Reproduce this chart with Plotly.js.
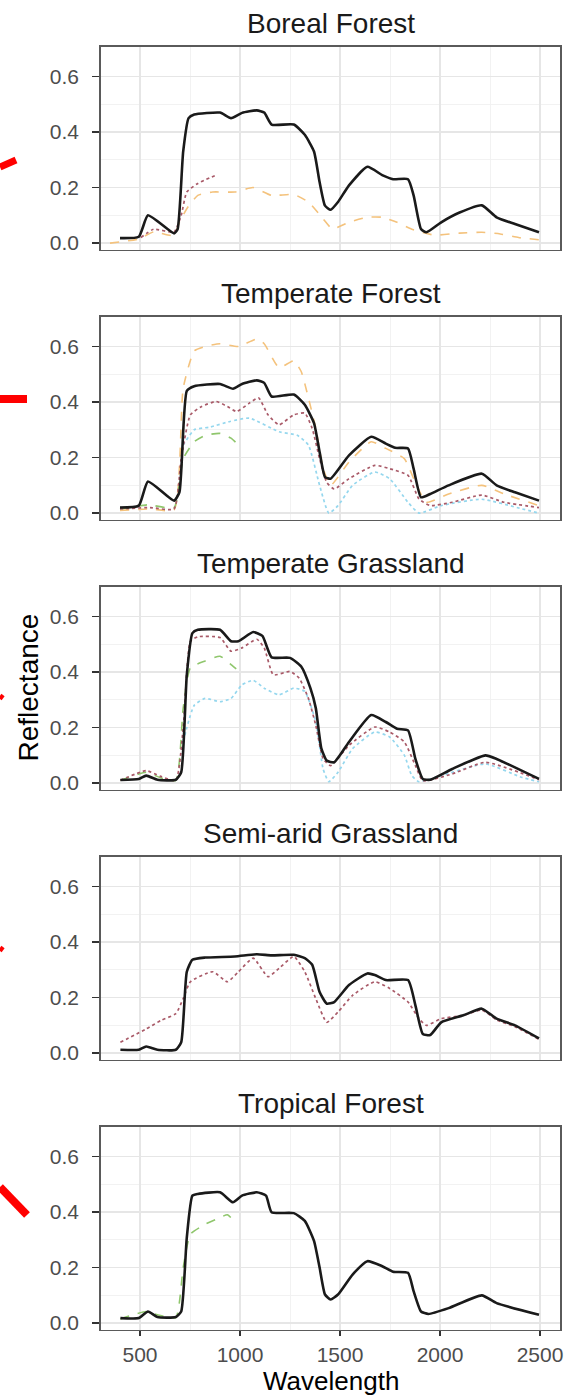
<!DOCTYPE html>
<html>
<head>
<meta charset="utf-8">
<script src="https://cdn.plot.ly/plotly-3.0.1.min.js"></script>
<style>
html,body{margin:0;padding:0;background:#fff;}
#chart{width:576px;height:1397px;}
</style>
</head>
<body>
<div id="chart"></div>
<script>
// ---------- DATA ----------
const panelTitles = ['Boreal Forest','Temperate Forest','Temperate Grassland','Semi-arid Grassland','Tropical Forest'];
const xTickVals = [500, 1000, 1500, 2000, 2500];
const yTickVals = [0, 0.2, 0.4, 0.6];

// Boreal Forest
const borealBlackX = [400,494,540,670,688,716,743,771,900,955,1010,1084,1121,1158,1269,1324,1370,1398,1425,1453,1490,1545,1637,1711,1766,1840,1868,1905,1932,2006,2098,2209,2283,2375,2495];
const borealBlackY = [0.018,0.023,0.100,0.035,0.050,0.330,0.450,0.463,0.470,0.450,0.469,0.478,0.470,0.427,0.427,0.390,0.330,0.220,0.135,0.120,0.148,0.208,0.275,0.245,0.230,0.230,0.172,0.051,0.039,0.075,0.110,0.136,0.093,0.069,0.039];
const borealOrangeX = [350,494,568,670,697,734,789,863,974,1066,1158,1269,1342,1416,1462,1545,1637,1711,1785,1859,1970,2098,2209,2301,2393,2495];
const borealOrangeY = [0.000,0.015,0.040,0.027,0.075,0.124,0.172,0.184,0.184,0.200,0.172,0.175,0.148,0.087,0.051,0.075,0.093,0.093,0.075,0.050,0.029,0.036,0.039,0.033,0.020,0.012];
const borealRedX = [504,568,670,706,734,789,881];
const borealRedY = [0.020,0.050,0.040,0.100,0.184,0.215,0.245];

// Temperate Forest
const tempForBlackX = [400,494,540,670,697,734,771,900,965,1010,1084,1121,1158,1269,1324,1370,1398,1425,1453,1545,1656,1729,1776,1840,1868,1905,1951,2043,2209,2283,2375,2495];
const tempForBlackY = [0.020,0.027,0.114,0.045,0.075,0.440,0.457,0.465,0.448,0.465,0.478,0.469,0.420,0.427,0.390,0.324,0.220,0.130,0.124,0.208,0.275,0.250,0.235,0.233,0.160,0.057,0.069,0.100,0.142,0.100,0.075,0.045];
const tempForOrangeX = [400,550,670,716,771,826,900,992,1084,1121,1195,1269,1306,1342,1379,1416,1453,1545,1656,1729,1822,1877,1932,2043,2209,2320,2495];
const tempForOrangeY = [0.010,0.015,0.012,0.450,0.584,0.600,0.610,0.600,0.627,0.610,0.524,0.548,0.510,0.415,0.305,0.160,0.100,0.184,0.257,0.233,0.196,0.110,0.039,0.069,0.100,0.069,0.027];
const tempForRedX = [400,550,670,706,752,808,881,937,983,1047,1093,1140,1195,1269,1324,1361,1398,1434,1471,1545,1674,1748,1840,1895,1951,2061,2209,2320,2495];
const tempForRedY = [0.015,0.020,0.015,0.196,0.354,0.384,0.402,0.384,0.366,0.396,0.415,0.354,0.318,0.354,0.360,0.305,0.196,0.110,0.087,0.124,0.172,0.160,0.136,0.051,0.027,0.039,0.065,0.039,0.020];
const tempForBlueX = [716,771,850,950,1047,1195,1287,1342,1398,1444,1490,1563,1674,1748,1840,1895,2006,2209,2411,2495];
const tempForBlueY = [0.245,0.300,0.310,0.330,0.342,0.293,0.280,0.245,0.100,0.000,0.027,0.100,0.148,0.124,0.039,0.000,0.027,0.050,0.015,0.000];
const tempForGreenX = [400,540,670,716,771,826,900,955,992];
const tempForGreenY = [0.015,0.030,0.020,0.196,0.257,0.280,0.287,0.270,0.245];

// Temperate Grassland
const tempGrBlackX = [402,494,531,587,679,706,734,762,789,900,955,992,1066,1112,1158,1250,1306,1352,1379,1407,1434,1471,1545,1656,1729,1785,1840,1877,1914,1951,2061,2227,2283,2495];
const tempGrBlackY = [0.011,0.015,0.027,0.012,0.012,0.039,0.390,0.540,0.552,0.552,0.511,0.511,0.544,0.530,0.453,0.451,0.420,0.342,0.270,0.124,0.081,0.075,0.148,0.245,0.220,0.196,0.190,0.087,0.015,0.012,0.051,0.100,0.087,0.015];
const tempGrRedX = [402,531,600,679,716,752,789,900,955,1010,1084,1121,1167,1250,1296,1342,1379,1416,1453,1545,1674,1748,1822,1877,1914,2061,2227,2495];
const tempGrRedY = [0.010,0.045,0.025,0.010,0.200,0.510,0.527,0.524,0.475,0.487,0.518,0.487,0.390,0.402,0.378,0.305,0.208,0.087,0.063,0.136,0.202,0.184,0.148,0.063,0.009,0.033,0.075,0.012];
const tempGrGreenX = [402,531,600,679,716,752,826,900,955,1000];
const tempGrGreenY = [0.010,0.039,0.020,0.010,0.270,0.415,0.440,0.457,0.427,0.400];
const tempGrBlueX = [716,771,826,900,955,1010,1066,1121,1195,1269,1324,1379,1416,1444,1490,1563,1674,1748,1822,1859,1895,2006,2227,2411,2495];
const tempGrBlueY = [0.150,0.280,0.305,0.293,0.305,0.354,0.370,0.342,0.318,0.342,0.330,0.220,0.050,0.005,0.039,0.124,0.184,0.166,0.100,0.027,0.005,0.027,0.069,0.020,0.005];

// Semi-arid Grassland
const semiBlackX = [402,494,531,587,679,706,734,762,826,974,1084,1158,1269,1324,1361,1398,1434,1471,1545,1637,1674,1729,1840,1877,1914,1951,2006,2117,2209,2283,2375,2495];
const semiBlackY = [0.012,0.012,0.024,0.012,0.012,0.039,0.293,0.336,0.344,0.348,0.356,0.352,0.354,0.342,0.318,0.220,0.178,0.184,0.245,0.287,0.281,0.263,0.263,0.172,0.069,0.065,0.111,0.136,0.160,0.124,0.100,0.053];
const semiRedX = [402,531,605,679,716,752,863,937,992,1066,1140,1195,1269,1324,1379,1434,1490,1563,1674,1748,1840,1895,1932,2006,2117,2209,2283,2375,2495];
const semiRedY = [0.039,0.087,0.118,0.142,0.196,0.257,0.293,0.257,0.293,0.342,0.275,0.305,0.348,0.293,0.196,0.111,0.148,0.208,0.257,0.233,0.184,0.124,0.100,0.124,0.136,0.155,0.120,0.095,0.050];

// Tropical Forest
const tropBlackX = [402,494,540,587,679,706,734,762,789,900,965,1010,1084,1130,1158,1269,1324,1370,1398,1425,1453,1490,1563,1637,1711,1766,1840,1868,1905,1942,2043,2209,2283,2495];
const tropBlackY = [0.018,0.018,0.042,0.022,0.022,0.042,0.308,0.459,0.465,0.471,0.435,0.459,0.471,0.459,0.399,0.396,0.368,0.296,0.200,0.103,0.085,0.103,0.175,0.223,0.205,0.185,0.181,0.115,0.042,0.033,0.054,0.100,0.072,0.030];
const tropGreenX = [402,531,587,679,716,752,826,900,937,974];
const tropGreenY = [0.015,0.042,0.030,0.020,0.200,0.320,0.356,0.380,0.390,0.365];

// ---------- STYLES ----------
const BLACK = {color:'#1a1a1a', width:2.6, dash:'solid'};
const ORANGE = {color:'#f4c27c', width:1.6, dash:'dash'};
const RED = {color:'#a95a68', width:1.7, dash:'dot'};
const GREEN = {color:'#8fc66c', width:1.6, dash:'dash'};
const BLUE = {color:'#95d7ee', width:1.7, dash:'dot'};

const panelSeries = [
  [[borealOrangeX,borealOrangeY,ORANGE],[borealRedX,borealRedY,RED],[borealBlackX,borealBlackY,BLACK]],
  [[tempForOrangeX,tempForOrangeY,ORANGE],[tempForBlueX,tempForBlueY,BLUE],[tempForGreenX,tempForGreenY,GREEN],[tempForRedX,tempForRedY,RED],[tempForBlackX,tempForBlackY,BLACK]],
  [[tempGrBlueX,tempGrBlueY,BLUE],[tempGrGreenX,tempGrGreenY,GREEN],[tempGrRedX,tempGrRedY,RED],[tempGrBlackX,tempGrBlackY,BLACK]],
  [[semiRedX,semiRedY,RED],[semiBlackX,semiBlackY,BLACK]],
  [[tropGreenX,tropGreenY,GREEN],[tropBlackX,tropBlackY,BLACK]]
];

const W = 576, H = 1397;
const FONT = 'Liberation Sans, Arial, Helvetica, sans-serif';
const plotLeft = 101, plotRight = 560;
const panelTop0 = 46.5, panelBot0 = 249.5, panelStep = 270;

const traces = [];
const layout = {
  width: W, height: H,
  margin: {l:0, r:0, t:0, b:0},
  paper_bgcolor: '#ffffff', plot_bgcolor: '#ffffff',
  showlegend: false,
  font: {family: FONT, color: '#4d4d4d'},
  annotations: [], shapes: []
};

panelSeries.forEach((series, i) => {
  const k = i + 1;
  const xa = k === 1 ? 'x' : 'x' + k;
  const ya = k === 1 ? 'y' : 'y' + k;
  series.forEach(s => {
    traces.push({
      type: 'scatter', mode: 'lines', x: s[0], y: s[1],
      xaxis: xa, yaxis: ya,
      line: {color: s[2].color, width: s[2].width, dash: s[2].dash, shape: 'spline', smoothing: 0.5},
      hoverinfo: 'skip'
    });
  });
  const top = panelTop0 + panelStep * i, bot = panelBot0 + panelStep * i;
  const isLast = i === panelSeries.length - 1;
  layout[k === 1 ? 'xaxis' : 'xaxis' + k] = {
    domain: [plotLeft / W, plotRight / W], anchor: ya,
    range: [305, 2600], tickmode: 'array', tickvals: xTickVals,
    showticklabels: isLast, ticks: isLast ? 'outside' : '', ticklen: 5, tickwidth: 1.4, tickcolor: '#333333',
    tickfont: {family: FONT, size: 21, color: '#4d4d4d'},
    showgrid: true, gridcolor: '#e6e6e6', gridwidth: 1.4,
    minor: {tickmode: 'array', tickvals: [750, 1250, 1750, 2250], showgrid: true, gridcolor: '#f1f1f1', gridwidth: 0.9, ticks: ''},
    showline: true, mirror: true, linecolor: '#5a5a5a', linewidth: 1.8, zeroline: false, fixedrange: true
  };
  layout[k === 1 ? 'yaxis' : 'yaxis' + k] = {
    domain: [1 - bot / H, 1 - top / H], anchor: xa,
    range: [-0.023, 0.708], tickmode: 'array', tickvals: yTickVals, ticktext: yTickVals.map(v => v.toFixed(1)),
    ticks: 'outside', ticklen: 7, tickwidth: 1.4, tickcolor: '#333333', ticklabelstandoff: 9,
    tickfont: {family: FONT, size: 21, color: '#4d4d4d'},
    showgrid: true, gridcolor: '#e6e6e6', gridwidth: 1.4,
    minor: {tickmode: 'array', tickvals: [0.1, 0.3, 0.5], showgrid: true, gridcolor: '#f1f1f1', gridwidth: 0.9, ticks: ''},
    showline: true, mirror: true, linecolor: '#5a5a5a', linewidth: 1.8, zeroline: false, fixedrange: true
  };
  layout.annotations.push({
    xref: 'paper', yref: 'paper', x: (plotLeft + plotRight) / 2 / W, y: 1 - (23 + panelStep * i) / H,
    xanchor: 'center', yanchor: 'middle', showarrow: false,
    text: panelTitles[i], font: {family: FONT, size: 28, color: '#1a1a1a'}
  });
});

// axis titles
layout.annotations.push({
  xref: 'paper', yref: 'paper', x: (plotLeft + plotRight) / 2 / W, y: 0,
  xanchor: 'center', yanchor: 'bottom', showarrow: false, borderpad: 0,
  text: 'Wavelength', font: {family: FONT, size: 26, color: '#000000'}
});
layout.annotations.push({
  xref: 'paper', yref: 'paper', x: 28 / W, y: 1 - 687.5 / H,
  xanchor: 'center', yanchor: 'middle', showarrow: false, textangle: -90,
  text: 'Reflectance', font: {family: FONT, size: 28, color: '#000000'}
});

// red annotation marks at the left edge (cropped arrows)
const redMarks = [[0,167,16,160,7],[0,399,27,399,8],[0,699,3,695,4],[0,951,3,947,4],[0,1187,27,1215,8]];
redMarks.forEach(m => {
  layout.shapes.push({type:'line', xref:'paper', yref:'paper', x0:m[0]/W, y0:1-m[1]/H, x1:m[2]/W, y1:1-m[3]/H,
    line:{color:'#ff0000', width:m[4]}});
});

Plotly.newPlot('chart', traces, layout, {displayModeBar: false, staticPlot: true});
</script>
</body>
</html>
